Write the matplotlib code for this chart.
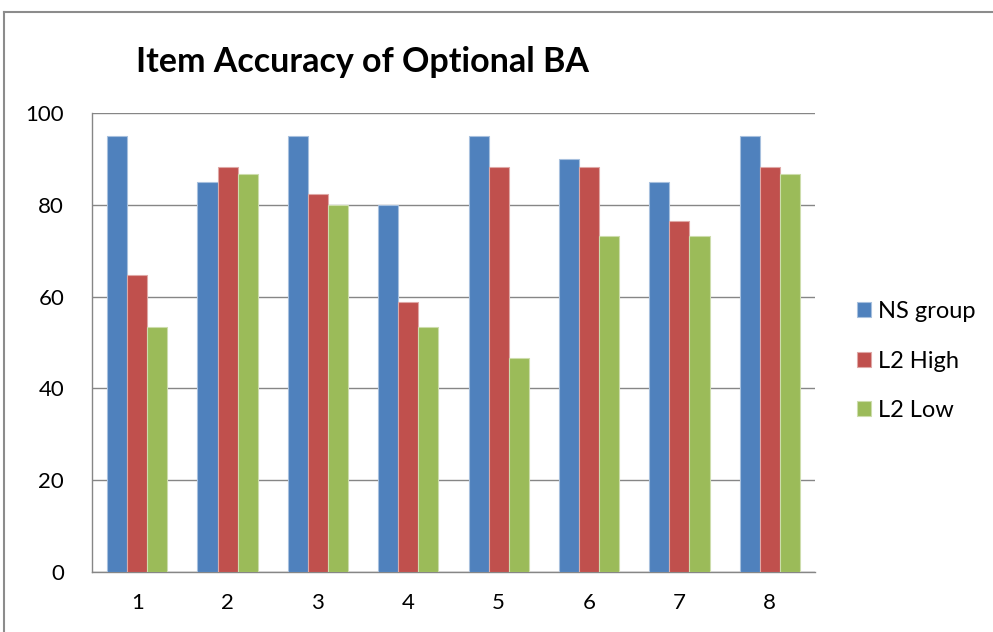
import matplotlib.pyplot as plt
import numpy as np
from matplotlib.lines import Line2D

items = [1, 2, 3, 4, 5, 6, 7, 8]
ns_group = [95, 85, 95, 80, 95, 90, 85, 95]
l2_high = [64.7, 88.2, 82.4, 58.8, 88.2, 88.2, 76.5, 88.2]
l2_low = [53.3, 86.7, 80.0, 53.3, 46.7, 73.3, 73.3, 86.7]
series_names = ["NS group", "L2 High", "L2 Low"]
colors = ["#4F81BD", "#C0504D", "#9BBB59"]
edges = ["#A7C0DE", "#DFA8A6", "#CDDDAC"]

plt.rcParams["font.family"] = ["Lato", "DejaVu Sans"]

fig = plt.figure(figsize=(9.93, 6.32), dpi=100)
ax = fig.add_axes([92 / 993, 1 - 572 / 632, (815 - 92) / 993, (572 - 113) / 632])

# outer chart frame (only top and left edges are inside the picture)
fx, fy = 4 / 993, 1 - 12 / 632
fig.lines.append(Line2D([fx, 1.0], [fy, fy], transform=fig.transFigure,
                        color="#8C8C8C", linewidth=1.5))
fig.lines.append(Line2D([fx, fx], [0, fy], transform=fig.transFigure,
                        color="#8C8C8C", linewidth=1.5))

x = np.arange(len(items))
w = 1 / 4.5
for i, (vals, name) in enumerate(zip([ns_group, l2_high, l2_low], series_names)):
    ax.bar(x + (i - 1) * w, vals, width=w, color=colors[i], edgecolor=edges[i],
           linewidth=0.8, label=name, zorder=3)

ax.set_xlim(-0.5, len(items) - 0.5)
ax.set_ylim(0, 100)
ax.set_yticks(range(0, 101, 20))
ax.set_xticks(x)
ax.set_xticklabels([str(i) for i in items])
ax.yaxis.grid(True, color="#868686", linewidth=1.0, zorder=0)
ax.tick_params(axis="both", length=0, labelsize=16, colors="#000000")
ax.tick_params(axis="x", pad=15)
ax.tick_params(axis="y", pad=20)
for s in ["top", "right"]:
    ax.spines[s].set_visible(False)
for s in ["left", "bottom"]:
    ax.spines[s].set_color("#868686")
    ax.spines[s].set_linewidth(1.0)

fig.text(362 / 993, 1 - 62 / 632, "Item Accuracy of Optional BA", ha="center",
         va="center", fontsize=24.5, fontweight="bold")

ax.legend(loc="center left", bbox_to_anchor=(836 / 993, 1 - 361 / 632),
          bbox_transform=fig.transFigure, frameon=False, fontsize=17,
          handlelength=0.6, handleheight=0.6, handletextpad=0.3,
          labelspacing=1.2)

fig.savefig("out.png", dpi=100, facecolor="white")
